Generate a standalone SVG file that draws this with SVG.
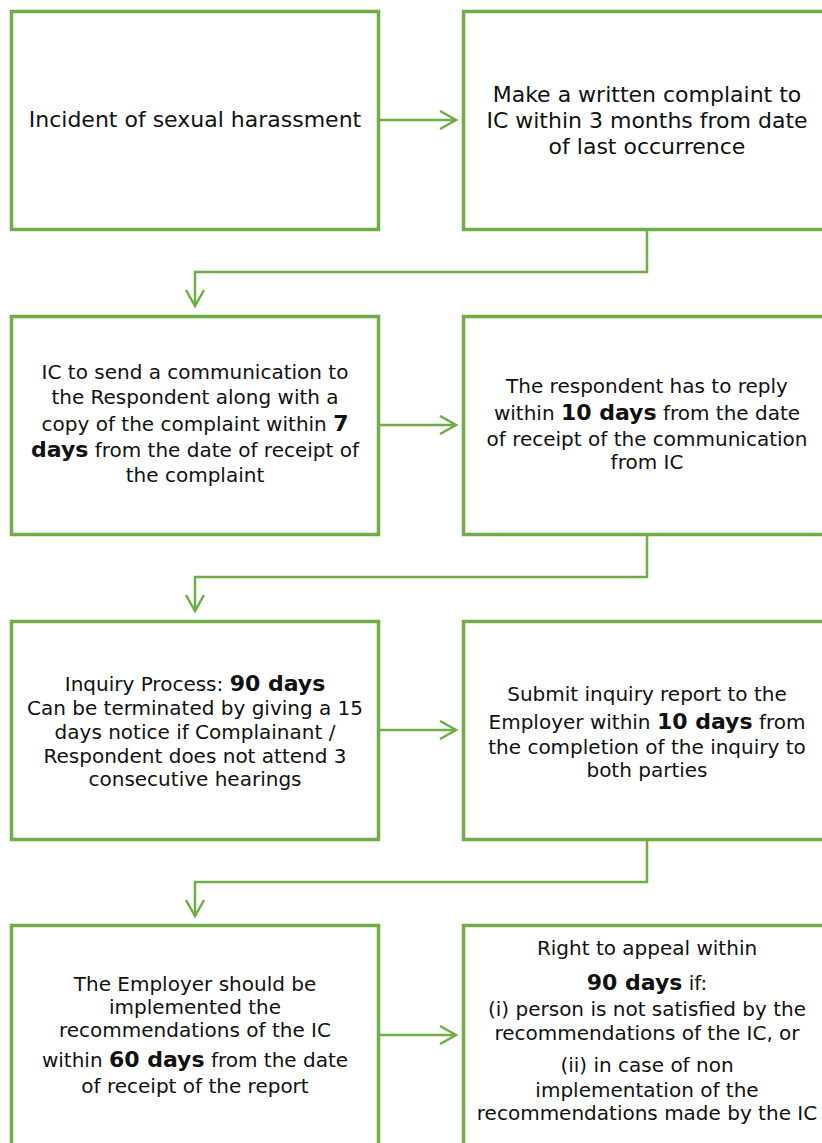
<svg xmlns="http://www.w3.org/2000/svg" width="822" height="1143" viewBox="0 0 822 1143">
<style>
.box{fill:#fff;stroke:#70AD47;stroke-width:3.5}
.conn{fill:none;stroke:#70AD47;stroke-width:2.5;marker-end:url(#chev)}
text{font-family:"DejaVu Sans","Liberation Sans",sans-serif;fill:#111;text-anchor:middle}
.big{font-size:22px}
.t{font-size:20px}
.b{font-weight:bold;font-size:22px}
</style>
<defs>
<marker id="chev" markerUnits="userSpaceOnUse" markerWidth="20" markerHeight="20" viewBox="0 0 20 20" refX="17" refY="10" orient="auto">
<path d="M1,1 L17,10 L1,19" fill="none" stroke="#70AD47" stroke-width="2.5"/>
</marker>
</defs>
<rect width="822" height="1143" fill="#fff"/>
<g id="n1"><rect class="box" x="11.5" y="11.5" width="367" height="218"/>
<text class="big" x="195" y="127">Incident of sexual harassment</text></g>
<g id="n2"><rect class="box" x="463.5" y="11.5" width="367" height="218"/>
<text class="big" x="647" y="102">Make a written complaint to</text>
<text class="big" x="647" y="128">IC within 3 months from date</text>
<text class="big" x="647" y="154">of last occurrence</text></g>
<g id="n3"><rect class="box" x="11.5" y="316.5" width="367" height="218"/>
<text class="t" x="195" y="379">IC to send a communication to</text>
<text class="t" x="195" y="404">the Respondent along with a</text>
<text class="t" x="195" y="431">copy of the complaint within <tspan class="b">7</tspan></text>
<text class="t" x="195" y="457"><tspan class="b">days</tspan> from the date of receipt of</text>
<text class="t" x="195" y="482">the complaint</text></g>
<g id="n4"><rect class="box" x="463.5" y="316.5" width="367" height="218"/>
<text class="t" x="647" y="393">The respondent has to reply</text>
<text class="t" x="647" y="420">within <tspan class="b">10 days</tspan> from the date</text>
<text class="t" x="647" y="446">of receipt of the communication</text>
<text class="t" x="647" y="469">from IC</text></g>
<g id="n5"><rect class="box" x="11.5" y="621.5" width="367" height="218"/>
<text class="t" x="195" y="691">Inquiry Process: <tspan class="b">90 days</tspan></text>
<text class="t" x="195" y="715">Can be terminated by giving a 15</text>
<text class="t" x="195" y="739">days notice if Complainant /</text>
<text class="t" x="195" y="763">Respondent does not attend 3</text>
<text class="t" x="195" y="786">consecutive hearings</text></g>
<g id="n6"><rect class="box" x="463.5" y="621.5" width="367" height="218"/>
<text class="t" x="647" y="701">Submit inquiry report to the</text>
<text class="t" x="647" y="729">Employer within <tspan class="b">10 days</tspan> from</text>
<text class="t" x="647" y="754">the completion of the inquiry to</text>
<text class="t" x="647" y="777">both parties</text></g>
<g id="n7"><rect class="box" x="11.5" y="925.5" width="367" height="240"/>
<text class="t" x="195" y="991">The Employer should be</text>
<text class="t" x="195" y="1014">implemented the</text>
<text class="t" x="195" y="1037">recommendations of the IC</text>
<text class="t" x="195" y="1067">within <tspan class="b">60 days</tspan> from the date</text>
<text class="t" x="195" y="1093">of receipt of the report</text></g>
<g id="n8"><rect class="box" x="463.5" y="925.5" width="367" height="240"/>
<text class="t" x="647" y="955">Right to appeal within</text>
<text class="t" x="647" y="990"><tspan class="b">90 days</tspan> if:</text>
<text class="t" x="647" y="1016">(i) person is not satisfied by the</text>
<text class="t" x="647" y="1040">recommendations of the IC, or</text>
<text class="t" x="647" y="1072">(ii) in case of non</text>
<text class="t" x="647" y="1097">implementation of the</text>
<text class="t" x="647" y="1120">recommendations made by the IC</text></g>
<g id="connectors">
<path class="conn" d="M380,120 H456"/>
<path class="conn" d="M647,231 V272 H195 V306"/>
<path class="conn" d="M380,425 H456"/>
<path class="conn" d="M647,536 V577 H195 V611"/>
<path class="conn" d="M380,730 H456"/>
<path class="conn" d="M647,841 V882 H195 V916"/>
<path class="conn" d="M380,1035 H456"/>
</g>
</svg>
